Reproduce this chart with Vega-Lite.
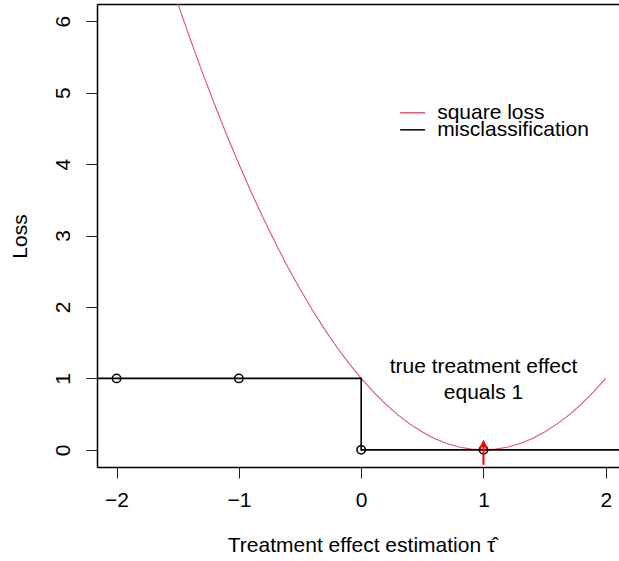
{
  "$schema": "https://vega.github.io/schema/vega-lite/v6.json",
  "width": 522,
  "height": 463,
  "autosize": {"type": "none"},
  "padding": {"left": 97, "top": 4, "right": 0, "bottom": 94},
  "config": {
    "view": {"stroke": null},
    "font": "Liberation Sans",
    "axis": {"grid": false, "domainColor": "black", "domainWidth": 1.5, "tickColor": "#222", "tickWidth": 1, "labelColor": "black", "titleColor": "black", "titleFontWeight": "normal"}
  },
  "datasets": {
    "lines": [
      {"x": -1.7, "loss": 7.29, "series": "square loss", "i": 0},
      {"x": -1.6, "loss": 6.76, "series": "square loss", "i": 1},
      {"x": -1.5, "loss": 6.25, "series": "square loss", "i": 2},
      {"x": -1.4, "loss": 5.76, "series": "square loss", "i": 3},
      {"x": -1.3, "loss": 5.29, "series": "square loss", "i": 4},
      {"x": -1.2, "loss": 4.84, "series": "square loss", "i": 5},
      {"x": -1.1, "loss": 4.41, "series": "square loss", "i": 6},
      {"x": -1.0, "loss": 4.0, "series": "square loss", "i": 7},
      {"x": -0.9, "loss": 3.61, "series": "square loss", "i": 8},
      {"x": -0.8, "loss": 3.24, "series": "square loss", "i": 9},
      {"x": -0.7, "loss": 2.89, "series": "square loss", "i": 10},
      {"x": -0.6, "loss": 2.56, "series": "square loss", "i": 11},
      {"x": -0.5, "loss": 2.25, "series": "square loss", "i": 12},
      {"x": -0.4, "loss": 1.96, "series": "square loss", "i": 13},
      {"x": -0.3, "loss": 1.69, "series": "square loss", "i": 14},
      {"x": -0.2, "loss": 1.44, "series": "square loss", "i": 15},
      {"x": -0.1, "loss": 1.21, "series": "square loss", "i": 16},
      {"x": 0.0, "loss": 1.0, "series": "square loss", "i": 17},
      {"x": 0.1, "loss": 0.81, "series": "square loss", "i": 18},
      {"x": 0.2, "loss": 0.64, "series": "square loss", "i": 19},
      {"x": 0.3, "loss": 0.49, "series": "square loss", "i": 20},
      {"x": 0.4, "loss": 0.36, "series": "square loss", "i": 21},
      {"x": 0.5, "loss": 0.25, "series": "square loss", "i": 22},
      {"x": 0.6, "loss": 0.16, "series": "square loss", "i": 23},
      {"x": 0.7, "loss": 0.09, "series": "square loss", "i": 24},
      {"x": 0.8, "loss": 0.04, "series": "square loss", "i": 25},
      {"x": 0.9, "loss": 0.01, "series": "square loss", "i": 26},
      {"x": 1.0, "loss": 0.0, "series": "square loss", "i": 27},
      {"x": 1.1, "loss": 0.01, "series": "square loss", "i": 28},
      {"x": 1.2, "loss": 0.04, "series": "square loss", "i": 29},
      {"x": 1.3, "loss": 0.09, "series": "square loss", "i": 30},
      {"x": 1.4, "loss": 0.16, "series": "square loss", "i": 31},
      {"x": 1.5, "loss": 0.25, "series": "square loss", "i": 32},
      {"x": 1.6, "loss": 0.36, "series": "square loss", "i": 33},
      {"x": 1.7, "loss": 0.49, "series": "square loss", "i": 34},
      {"x": 1.8, "loss": 0.64, "series": "square loss", "i": 35},
      {"x": 1.9, "loss": 0.81, "series": "square loss", "i": 36},
      {"x": 2.0, "loss": 1.0, "series": "square loss", "i": 37},
      {"x": -3, "loss": 1, "series": "misclassification", "i": 0},
      {"x": 0, "loss": 1, "series": "misclassification", "i": 1},
      {"x": 0, "loss": 0, "series": "misclassification", "i": 2},
      {"x": 3, "loss": 0, "series": "misclassification", "i": 3}
    ],
    "points": [
      {"x": -2, "loss": 1},
      {"x": -1, "loss": 1},
      {"x": 0, "loss": 0},
      {"x": 1, "loss": 0}
    ],
    "notes": [
      {"x": 1, "loss": 1.16, "text": "true treatment effect"},
      {"x": 1, "loss": 0.8, "text": "equals 1"}
    ],
    "legend": [
      {"series": "square loss", "x0": 0.319, "x1": 0.523, "xt": 0.621, "loss": 4.717},
      {"series": "misclassification", "x0": 0.319, "x1": 0.523, "xt": 0.621, "loss": 4.479}
    ],
    "arrow": [
      {"x": 1, "from": -0.21, "to": 0.11, "head": 0.062}
    ]
  },
  "layer": [
    {
      "data": {"name": "lines"},
      "mark": {"type": "line", "clip": true},
      "encoding": {
        "x": {
          "field": "x", "type": "quantitative",
          "scale": {"domain": [-2.16, 2.108], "nice": false, "zero": false},
          "axis": {
            "orient": "bottom", "values": [-2, -1, 0, 1, 2], "format": "d", "tickSize": 11,
            "labelFontSize": 21, "labelBaseline": "middle", "labelPadding": 22,
            "title": "Treatment effect estimation τ̂", "titleFontSize": 21,
            "titleX": 264, "titleY": 78, "titleBaseline": "middle", "titleAnchor": "start", "titleAlign": "center"
          }
        },
        "y": {
          "field": "loss", "type": "quantitative",
          "scale": {"domain": [-0.24, 6.24], "nice": false, "zero": false},
          "axis": {
            "values": [0, 1, 2, 3, 4, 5, 6], "format": "d", "tickSize": 11,
            "labelFontSize": 21, "labelAngle": 270, "labelAlign": "center", "labelBaseline": "middle", "labelPadding": 23,
            "title": "Loss", "titleFontSize": 21, "titleAngle": 270, "titleX": -77, "titleY": 232,
            "titleBaseline": "middle", "titleAlign": "center", "titleAnchor": "start"
          }
        },
        "color": {
          "field": "series", "type": "nominal",
          "scale": {"domain": ["square loss", "misclassification"], "range": ["#DF536B", "black"]},
          "legend": null
        },
        "strokeWidth": {
          "field": "series", "type": "nominal",
          "scale": {"domain": ["square loss", "misclassification"], "range": [1.1, 1.6]},
          "legend": null
        },
        "order": {"field": "i", "type": "quantitative"}
      }
    },
    {
      "data": {"name": "points"},
      "mark": {"type": "point", "filled": false, "color": "black", "size": 70, "strokeWidth": 1.5, "opacity": 1},
      "encoding": {
        "x": {
          "field": "x", "type": "quantitative",
          "scale": {"domain": [-2.16, 2.108], "nice": false, "zero": false},
          "axis": {"orient": "top", "labels": false, "ticks": false, "title": null, "domain": true}
        },
        "y": {"field": "loss", "type": "quantitative"}
      }
    },
    {
      "data": {"name": "notes"},
      "mark": {"type": "text", "fontSize": 21, "color": "black", "align": "center", "baseline": "middle"},
      "encoding": {
        "x": {"field": "x", "type": "quantitative", "axis": null},
        "y": {"field": "loss", "type": "quantitative"},
        "text": {"field": "text"}
      }
    },
    {
      "data": {"name": "legend"},
      "mark": {"type": "rule", "strokeWidth": 1.5},
      "encoding": {
        "x": {"field": "x0", "type": "quantitative", "axis": null},
        "x2": {"field": "x1"},
        "y": {"field": "loss", "type": "quantitative"},
        "color": {"field": "series", "type": "nominal", "legend": null}
      }
    },
    {
      "data": {"name": "legend"},
      "mark": {"type": "text", "fontSize": 21, "color": "black", "align": "left", "baseline": "middle"},
      "encoding": {
        "x": {"field": "xt", "type": "quantitative", "axis": null},
        "y": {"field": "loss", "type": "quantitative"},
        "text": {"field": "series"}
      }
    },
    {
      "data": {"name": "arrow"},
      "mark": {"type": "rule", "color": "#FF0000", "strokeWidth": 2},
      "encoding": {
        "x": {"field": "x", "type": "quantitative", "axis": null},
        "y": {"field": "from", "type": "quantitative"},
        "y2": {"field": "to"}
      }
    },
    {
      "data": {"name": "arrow"},
      "mark": {"type": "point", "shape": "M-1,1L0,-1L1,1", "filled": false, "color": "#FF0000", "strokeWidth": 2, "size": 49, "opacity": 1},
      "encoding": {
        "x": {"field": "x", "type": "quantitative", "axis": null},
        "y": {"field": "head", "type": "quantitative"}
      }
    }
  ],
  "resolve": {"axis": {"x": "independent"}}
}
